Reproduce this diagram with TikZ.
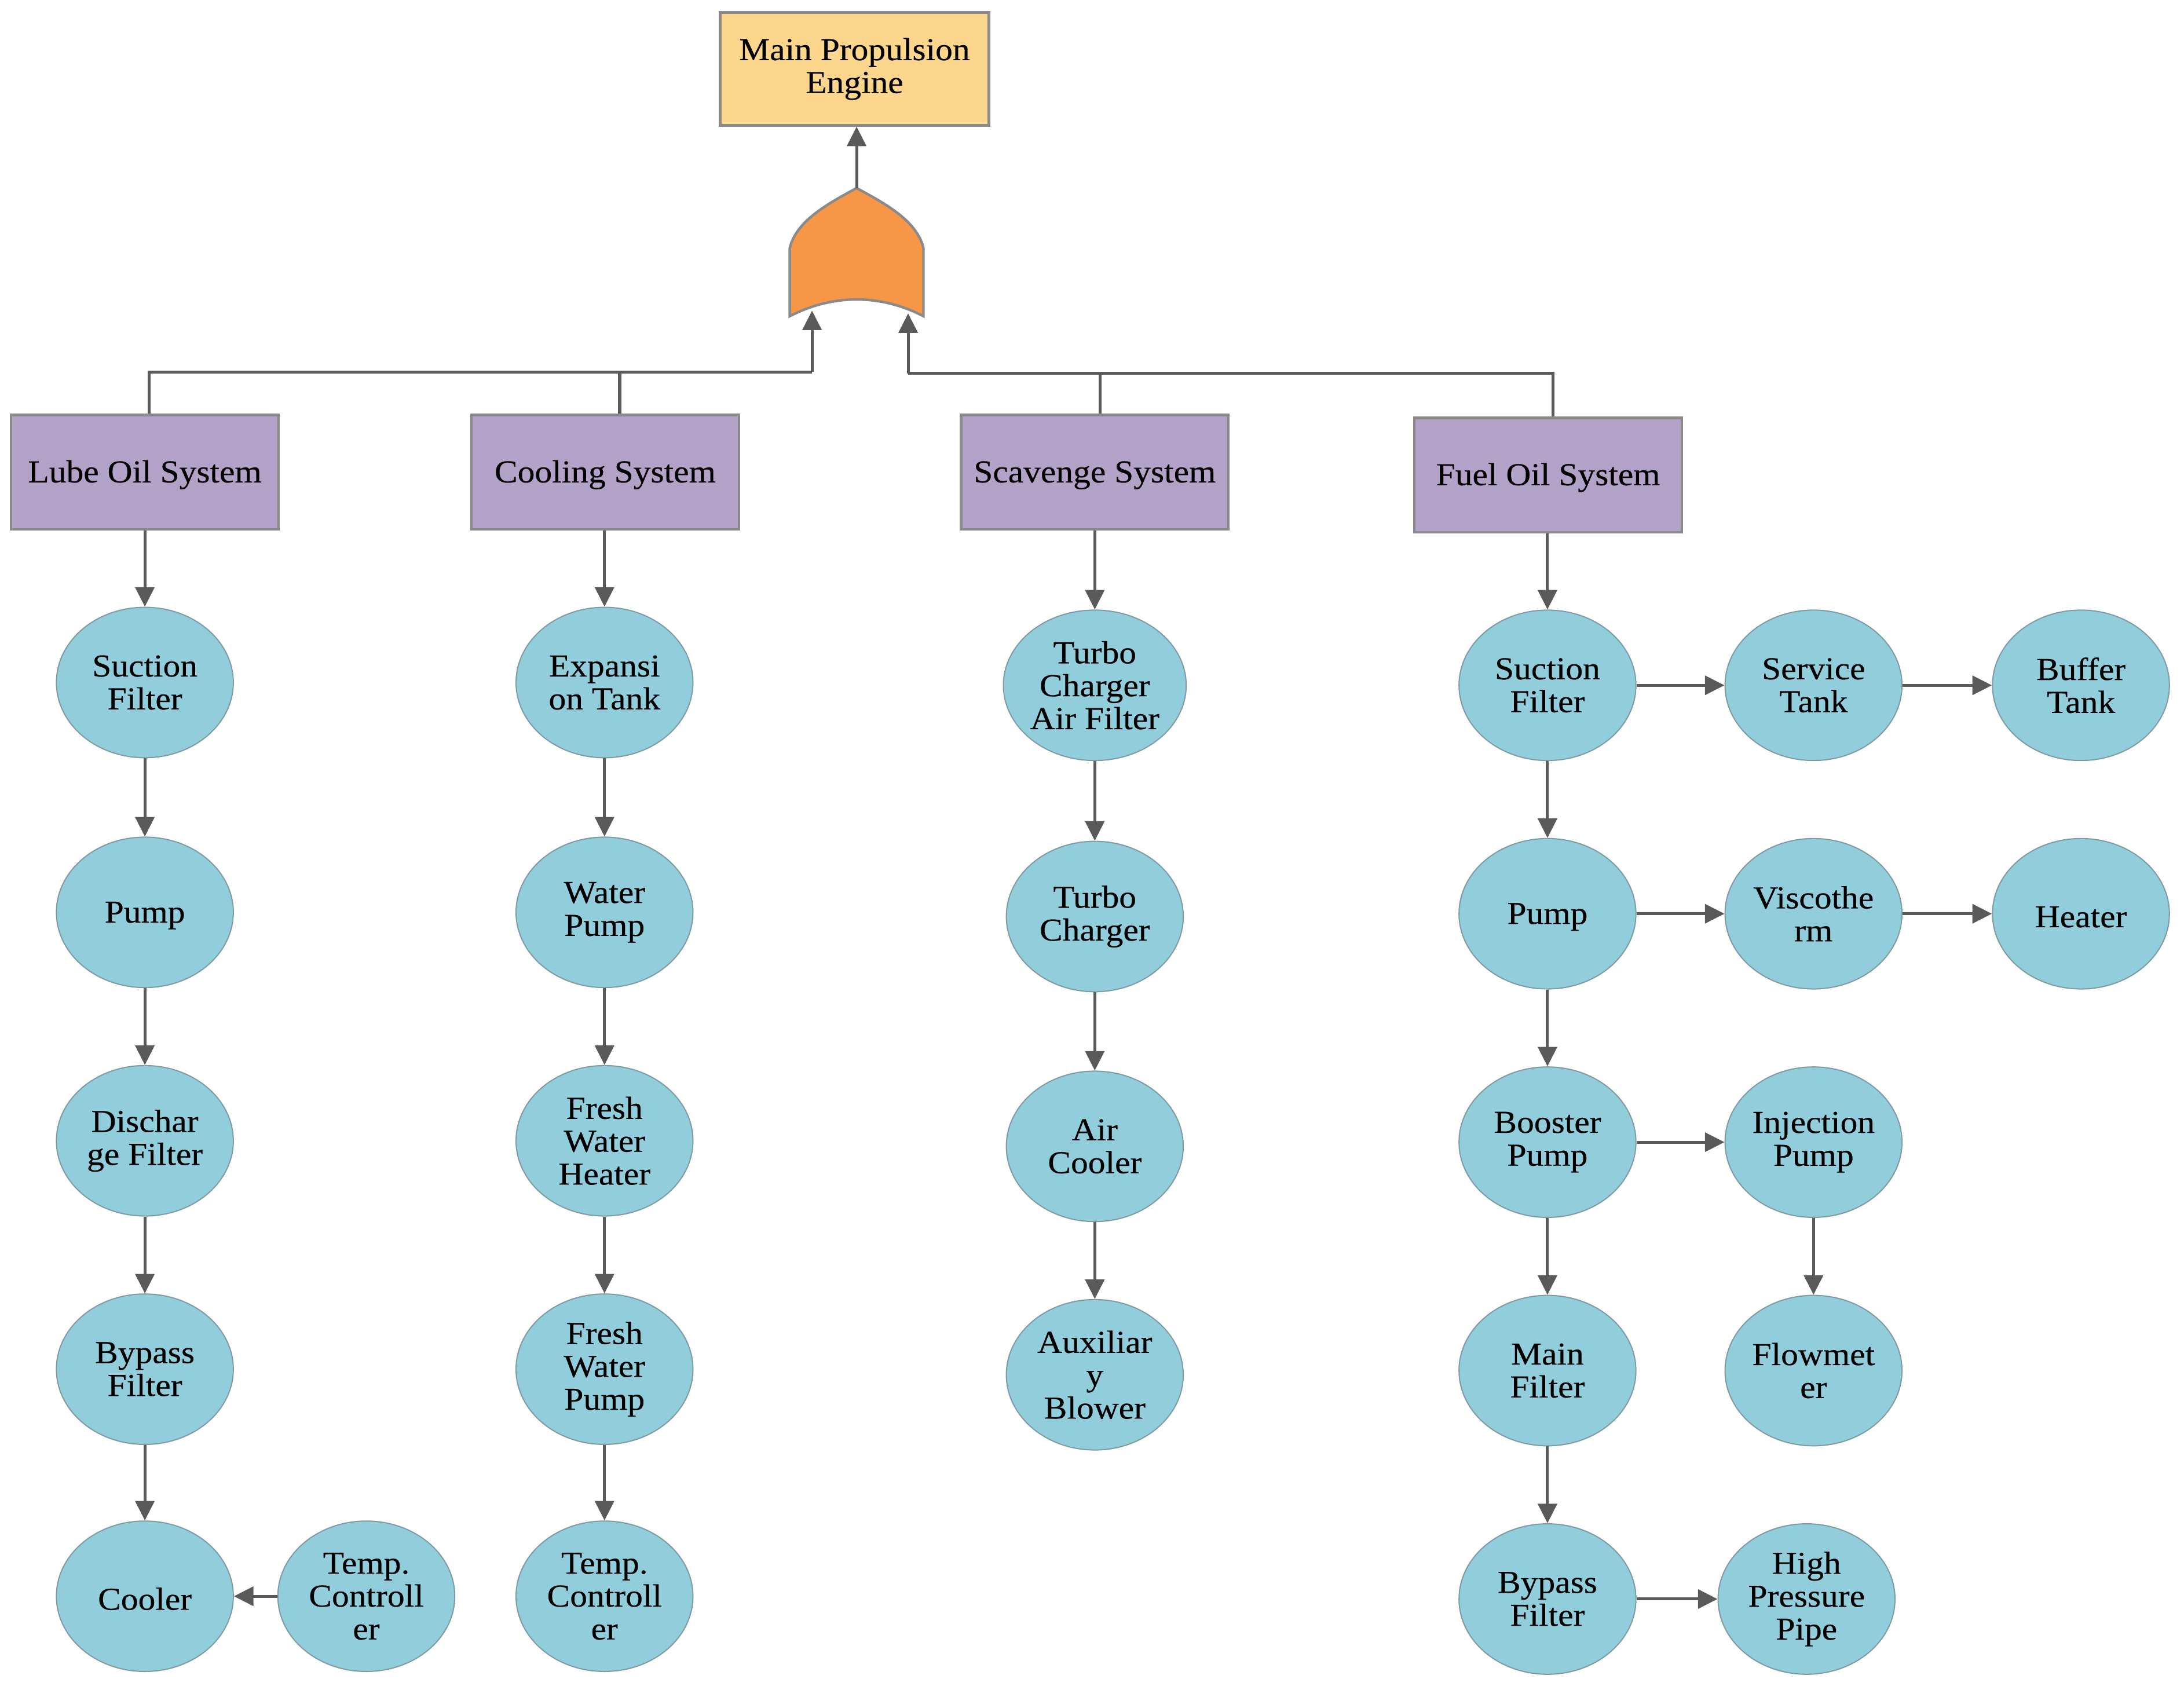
\documentclass[tikz,border=0pt]{standalone}
\usepackage{fontspec}
\setmainfont{Liberation Serif}[FakeStretch=1.08,FakeBold=0.35]
\usetikzlibrary{shapes.geometric,arrows.meta,calc}
\definecolor{topfill}{HTML}{FCD68C}
\definecolor{gatefill}{HTML}{F79646}
\definecolor{sysfill}{HTML}{B2A2C7}
\definecolor{compfill}{HTML}{92CDDC}
\definecolor{edge}{HTML}{8A8A8A}
\definecolor{compedge}{HTML}{7F9CA4}
\definecolor{linec}{HTML}{5A5A5A}
\tikzset{
  txt/.style={font=\fontsize{16.3}{16.8}\selectfont, align=center, text=black,
    execute at begin node={\rule{0pt}{4.9mm}}},
  topbox/.style={txt, rectangle, draw=edge, line width=1.3pt, fill=topfill, minimum width=48.25mm, minimum height=20.25mm, inner sep=0pt},
  sysbox/.style={txt, rectangle, draw=edge, line width=1.3pt, fill=sysfill, minimum width=48mm, minimum height=20.5mm, inner sep=0pt},
  comp/.style={txt, ellipse, draw=compedge, line width=0.6pt, fill=compfill, minimum width=31.75mm, minimum height=27mm, inner sep=0pt},
  link/.style={draw=linec, line width=1.5pt},
  arr/.style={link, -{Triangle[length=3.5mm,width=3.4mm]}},
}
\begin{document}
\begin{tikzpicture}[x=0.25mm,y=-0.25mm]
\useasboundingbox (0,0) rectangle (1568,1213);
% top event
\node[topbox] (main) at (613.5,49.5) {Main Propulsion\\Engine};
% OR gate
\coordinate (gtop) at (615,135);
\draw[draw=edge, line width=1.3pt, fill=gatefill]
  (567,227) -- (567,178) .. controls (572,158) and (595,146) .. (gtop)
  .. controls (635,146) and (658,158) .. (663,178) -- (663,227)
  .. controls (632,211) and (598,211) .. cycle;
\draw[arr] (gtop) -- (gtop |- main.south);
\coordinate (inL) at (583,223);
\coordinate (inR) at (652,225);
\coordinate (busL) at (583,267);
\coordinate (busR) at (652,268);
% systems
\node[sysbox] (lube) at (104,339) {Lube Oil System};
\node[sysbox] (cool) at (434.5,339) {Cooling System};
\node[sysbox] (scav) at (786,339) {Scavenge System};
\node[sysbox] (fuel) at (1111.5,341) {Fuel Oil System};
\draw[link] ([xshift=0.75mm]lube.north) |- (busL);
\draw[link] ([xshift=2.6mm]cool.north) |- (busL);
\draw[arr] (busL) -- (inL);
\draw[link] ([xshift=1mm]scav.north) |- (busR);
\draw[link] ([xshift=0.9mm]fuel.north) |- (busR);
\draw[arr] (busR) -- (inR);
% lube oil column
\node[comp] (l1) at (104,490) {Suction\\Filter};
\node[comp] (l2) at (104,655) {Pump};
\node[comp] (l3) at (104,819) {Dischar\\ge Filter};
\node[comp] (l4) at (104,983) {Bypass\\Filter};
\node[comp] (l5) at (104,1146) {Cooler};
\node[comp] (l6) at (263,1146) {Temp.\\Controll\\er};
\draw[arr] (lube) -- (l1);
\draw[arr] (l1) -- (l2);
\draw[arr] (l2) -- (l3);
\draw[arr] (l3) -- (l4);
\draw[arr] (l4) -- (l5);
\draw[arr] (l6) -- (l5);
% cooling column
\node[comp] (c1) at (434,490) {Expansi\\on Tank};
\node[comp] (c2) at (434,655) {Water\\Pump};
\node[comp] (c3) at (434,819) {Fresh\\Water\\Heater};
\node[comp] (c4) at (434,983) {Fresh\\Water\\Pump};
\node[comp] (c5) at (434,1146) {Temp.\\Controll\\er};
\draw[arr] (cool.south -| c1) -- (c1);
\draw[arr] (c1) -- (c2);
\draw[arr] (c2) -- (c3);
\draw[arr] (c3) -- (c4);
\draw[arr] (c4) -- (c5);
% scavenge column
\node[comp] (s1) at (786,492) {Turbo\\Charger\\Air Filter};
\node[comp] (s2) at (786,658) {Turbo\\Charger};
\node[comp] (s3) at (786,823) {Air\\Cooler};
\node[comp] (s4) at (786,987) {Auxiliar\\y\\Blower};
\draw[arr] (scav) -- (s1);
\draw[arr] (s1) -- (s2);
\draw[arr] (s2) -- (s3);
\draw[arr] (s3) -- (s4);
% fuel oil column
\node[comp] (f1) at (1111,492) {Suction\\Filter};
\node[comp] (f2) at (1111,656) {Pump};
\node[comp] (f3) at (1111,820) {Booster\\Pump};
\node[comp] (f4) at (1111,984) {Main\\Filter};
\node[comp] (f5) at (1111,1148) {Bypass\\Filter};
\node[comp] (g1) at (1302,492) {Service\\Tank};
\node[comp] (g2) at (1494,492) {Buffer\\Tank};
\node[comp] (h1) at (1302,656) {Viscothe\\rm};
\node[comp] (h2) at (1494,656) {Heater};
\node[comp] (i1) at (1302,820) {Injection\\Pump};
\node[comp] (i2) at (1302,984) {Flowmet\\er};
\node[comp] (p1) at (1297,1148) {High\\Pressure\\Pipe};
\draw[arr] (fuel.south -| f1) -- (f1);
\draw[arr] (f1) -- (f2);
\draw[arr] (f2) -- (f3);
\draw[arr] (f3) -- (f4);
\draw[arr] (f4) -- (f5);
\draw[arr] (f1) -- (g1);
\draw[arr] (g1) -- (g2);
\draw[arr] (f2) -- (h1);
\draw[arr] (h1) -- (h2);
\draw[arr] (f3) -- (i1);
\draw[arr] (i1) -- (i2);
\draw[arr] (f5) -- (p1);
\end{tikzpicture}
\end{document}
